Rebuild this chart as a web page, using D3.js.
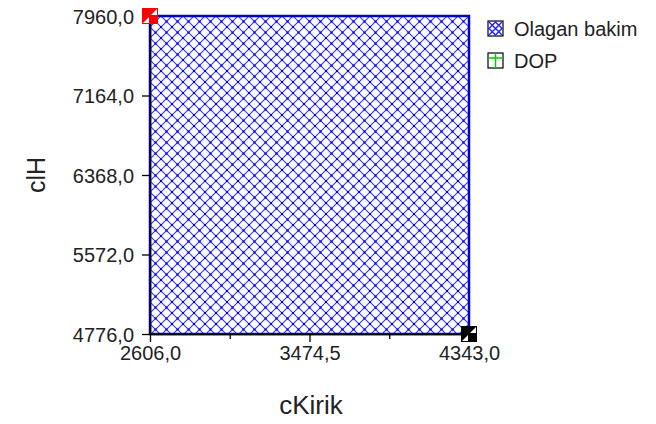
<!DOCTYPE html>
<html><head><meta charset="utf-8">
<script src="https://cdn.jsdelivr.net/npm/d3@7"></script>
<style>body{margin:0;background:#fff}svg{display:block}text{font-family:"Liberation Sans",Arial,sans-serif}</style>
</head><body><svg id="c" width="656" height="424"></svg>
<script>
const xTicks = [2606.0, 3474.5, 4343.0];
const yTicks = [4776.0, 5572.0, 6368.0, 7164.0, 7960.0];
const areaX = [2606.0, 4343.0];
const areaY = [4776.0, 7960.0];
const markerPts = [{x: 2606.0, y: 7960.0, c: "#ff0000"}, {x: 4343.0, y: 4776.0, c: "#000000"}];
const legendItems = ["Olagan bakim", "DOP"];
const xTitle = "cKirik", yTitle = "clH";

const svg = d3.select("#c");
const x = d3.scaleLinear().domain([2606, 4343]).range([150, 469]);
const y = d3.scaleLinear().domain([4776, 7960]).range([334, 16]);
const fmt = d => d3.format(".1f")(d).replace(".", ",");

const defs = svg.append("defs");
const P = 11;
const pat = defs.append("pattern").attr("id","hatch").attr("patternUnits","userSpaceOnUse")
  .attr("width",P).attr("height",P).attr("x",150).attr("y",16);
pat.append("rect").attr("width",P).attr("height",P).attr("fill","#fff");
pat.append("path").attr("d",`M0,0L${P},${P}M${P},0L0,${P}`)
  .attr("stroke","#3333ff").attr("stroke-width",1.1);
pat.append("rect").attr("x",P/2-1).attr("y",P/2-1).attr("width",2).attr("height",2).attr("fill","#0000ee");
pat.append("path").attr("d",`M0,0h1v1h-1Z M${P-1},0h1v1h-1Z M0,${P-1}h1v1h-1Z M${P-1},${P-1}h1v1h-1Z`).attr("fill","#0000ee");

// area
svg.append("rect").attr("x", x(areaX[0])).attr("y", y(areaY[1]))
  .attr("width", x(areaX[1]) - x(areaX[0])).attr("height", y(areaY[0]) - y(areaY[1]))
  .attr("fill","url(#hatch)").attr("stroke","#0000cc").attr("stroke-width",2.5);

// axes
const xa = svg.append("g").attr("transform","translate(0,334)")
  .call(d3.axisBottom(x).tickValues(xTicks).tickFormat(fmt).tickSize(8).tickSizeOuter(0));
const xm = svg.append("g").attr("transform","translate(0,334)")
  .call(d3.axisBottom(x).tickValues([2606+1737/4, 2606+1737*3/4]).tickFormat("").tickSize(5).tickSizeOuter(0));
xm.select(".domain").remove();
const ya = svg.append("g").attr("transform","translate(150,0)")
  .call(d3.axisLeft(y).tickValues(yTicks).tickFormat(fmt).tickSize(8).tickSizeOuter(0));
[xa, ya, xm].forEach(g => {
  g.selectAll("path.domain").attr("stroke","#000").attr("stroke-width",1.5);
  g.selectAll("line").attr("stroke","#000").attr("stroke-width",1.3);
  g.selectAll("text").style("font-size","20px").attr("fill","#222");
});
xa.selectAll("text").attr("y",12).attr("dy","0.72em");
ya.selectAll("text").attr("x",-16).attr("dy","0.35em");

// markers
const mk = svg.selectAll(".mk").data(markerPts).enter().append("g")
  .attr("transform", d => `translate(${x(d.x)},${y(d.y)})`);
mk.append("rect").attr("x",-8).attr("y",-8).attr("width",16).attr("height",16).attr("fill", d => d.c);
mk.append("path").attr("d","M7,-7L7,-1L1,-1Z M-1,1L-1,7L-7,7Z").attr("fill","#fff");

// titles
svg.append("text").attr("x",311).attr("y",414).attr("text-anchor","middle").style("font-size","26px").attr("fill","#222").text(xTitle);
svg.append("text").attr("transform","translate(45,175) rotate(-90)").attr("text-anchor","middle").style("font-size","25px").attr("fill","#222").text(yTitle);

// legend
const lg = svg.selectAll(".lg").data(legendItems).enter().append("g")
  .attr("transform",(d,i)=>`translate(488,${21+i*32})`);
lg.append("rect").attr("width",15).attr("height",15).attr("fill","#fff")
  .attr("stroke","#000").attr("stroke-width",1.2);
lg.filter((d,i)=>i===0).append("path").attr("d","M1,1L14,14M14,1L1,14M1,7.5L7.5,1L14,7.5L7.5,14Z").attr("stroke","#2020ff").attr("stroke-width",1.4).attr("fill","none");
lg.filter((d,i)=>i===1).append("path").attr("d","M7.5,0V15M0,5H15").attr("stroke","#00cc00").attr("stroke-width",1.5);
lg.append("text").attr("x",26).attr("y",15).style("font-size","20px").attr("fill","#222").text(d=>d);
</script></body></html>
